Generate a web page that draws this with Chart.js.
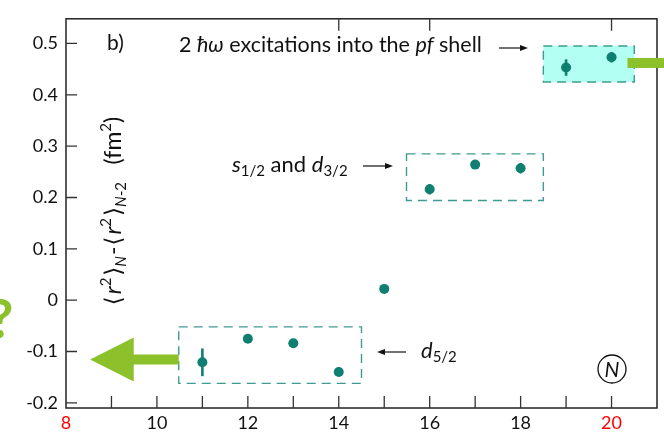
<!DOCTYPE html>
<html>
<head>
<meta charset="utf-8">
<script src="https://cdn.jsdelivr.net/npm/chart.js@4/dist/chart.umd.min.js"></script>
<style>
  html, body { margin: 0; padding: 0; background: #fff; }
  #wrap { width: 664px; height: 432px; position: relative; }
</style>
</head>
<body>
<div id="wrap"><canvas id="c"></canvas></div>
<script>
// Neutron number N and differential mean-square charge radius <r2>_N - <r2>_{N-2}
const neutronNumbers = [11, 12, 13, 14, 15, 16, 17, 18, 19, 20];
const radiusDiffs    = [-0.121, -0.075, -0.084, -0.140, 0.022, 0.216, 0.264, 0.257, 0.453, 0.473];
const radiusErrors   = [0.027, 0.004, 0.006, 0.004, 0.003, 0.010, 0.005, 0.010, 0.016, 0.010];

const xTickValues = [8, 10, 12, 14, 16, 18, 20];
const xMinorTicks = [9, 10, 11, 12, 13, 14, 15, 16, 17, 18, 19, 20];
const topTickValues = [14, 16, 20];
const redTicks = [8, 20];
const yTickValues = [-0.2, -0.1, 0, 0.1, 0.2, 0.3, 0.4, 0.5];

// Shell groups, framed in data units
const shellBoxes = [
  { x0: 10.48, x1: 14.5, y0: -0.162, y1: -0.052, fill: null },
  { x0: 15.49, x1: 18.5, y0: 0.194, y1: 0.285, fill: null },
  { x0: 18.5, x1: 20.5, y0: 0.425, y1: 0.495, fill: '#b2fff3' }
];

const TEAL = '#0f7f71';
const BOX_EDGE = '#3f9a91';
const GREEN = '#8cc12c';
const INK = '#111';
const FONT = 'Lato, "Open Sans", sans-serif';
const BRACKET = '"DejaVu Sans", sans-serif';

function runFont(r, base) {
  return (r.italic ? 'italic ' : '') + (r.size || base) + 'px ' + (r.family || FONT);
}
function runAdvance(ctx, r, base) {
  ctx.font = runFont(r, base);
  return ctx.measureText(r.t).width + (r.pad || 0);
}
// Draw a sequence of styled text runs on one baseline
function drawRuns(ctx, x, y, runs, base, align) {
  const w = runs.reduce((s, r) => s + runAdvance(ctx, r, base), 0);
  let cx = align === 'center' ? x - w / 2 : (align === 'right' ? x - w : x);
  ctx.textAlign = 'left';
  ctx.textBaseline = 'alphabetic';
  for (const r of runs) {
    ctx.font = runFont(r, base);
    ctx.fillText(r.t, cx, y + (r.dy || 0));
    cx += runAdvance(ctx, r, base);
  }
}
function thinArrow(ctx, x0, y, x1) {
  const dir = Math.sign(x1 - x0);
  ctx.save();
  ctx.strokeStyle = INK; ctx.fillStyle = INK; ctx.lineWidth = 1.2;
  ctx.beginPath(); ctx.moveTo(x0, y); ctx.lineTo(x1 - dir * 6, y); ctx.stroke();
  ctx.beginPath();
  ctx.moveTo(x1, y); ctx.lineTo(x1 - dir * 8, y - 3); ctx.lineTo(x1 - dir * 8, y + 3);
  ctx.closePath(); ctx.fill();
  ctx.restore();
}

const decorPlugin = {
  id: 'decor',
  beforeDatasetsDraw(chart) {
    const { ctx, scales: { x, y } } = chart;
    ctx.save();
    // shell boxes
    for (const b of shellBoxes) {
      const l = x.getPixelForValue(b.x0), r = x.getPixelForValue(b.x1);
      const t = y.getPixelForValue(b.y1), btm = y.getPixelForValue(b.y0);
      if (b.fill) { ctx.fillStyle = b.fill; ctx.fillRect(l, t, r - l, btm - t); }
      ctx.strokeStyle = BOX_EDGE; ctx.lineWidth = 1.4; ctx.setLineDash([9, 6]);
      ctx.strokeRect(l, t, r - l, btm - t);
    }
    ctx.setLineDash([]);
    // error bars
    ctx.strokeStyle = TEAL; ctx.lineWidth = 2.6;
    neutronNumbers.forEach((n, i) => {
      const px = x.getPixelForValue(n);
      ctx.beginPath();
      ctx.moveTo(px, y.getPixelForValue(radiusDiffs[i] - radiusErrors[i]));
      ctx.lineTo(px, y.getPixelForValue(radiusDiffs[i] + radiusErrors[i]));
      ctx.stroke();
    });
    // big green arrow towards lighter isotopes
    const ay = y.getPixelForValue(-0.1155);
    const sx = x.getPixelForValue(10.48), hx = x.getPixelForValue(9.49), tx = x.getPixelForValue(8.53);
    ctx.fillStyle = GREEN;
    ctx.beginPath();
    ctx.moveTo(sx, ay - 5); ctx.lineTo(hx, ay - 5); ctx.lineTo(hx, ay - 22);
    ctx.lineTo(tx, ay); ctx.lineTo(hx, ay + 22); ctx.lineTo(hx, ay + 5);
    ctx.lineTo(sx, ay + 5); ctx.closePath(); ctx.fill();
    ctx.restore();
  },
  afterDraw(chart) {
    const { ctx, chartArea: ca, scales: { x, y } } = chart;
    ctx.save();
    // frame
    ctx.strokeStyle = '#222'; ctx.lineWidth = 1.5;
    ctx.strokeRect(ca.left, ca.top, ca.right - ca.left, ca.bottom - ca.top);
    // inward ticks
    ctx.strokeStyle = '#333'; ctx.lineWidth = 1.3;
    ctx.beginPath();
    for (const v of xMinorTicks) {
      const px = x.getPixelForValue(v);
      ctx.moveTo(px, ca.bottom); ctx.lineTo(px, ca.bottom - 12);
    }
    for (const v of topTickValues) {
      const px = x.getPixelForValue(v);
      ctx.moveTo(px, ca.top); ctx.lineTo(px, ca.top + 12);
    }
    for (const v of yTickValues) {
      const py = y.getPixelForValue(v);
      ctx.moveTo(ca.left, py); ctx.lineTo(ca.left + 11, py);
    }
    ctx.stroke();

    // green bar towards heavier isotopes
    const gy = y.getPixelForValue(0.462);
    ctx.fillStyle = GREEN;
    ctx.fillRect(x.getPixelForValue(20.35), gy - 5, chart.width - x.getPixelForValue(20.35), 10);

    // green question mark at the far left
    ctx.font = 'bold 54px ' + FONT;
    ctx.textAlign = 'center'; ctx.textBaseline = 'alphabetic';
    ctx.fillText('?', 1, 338);

    ctx.fillStyle = INK;
    // panel label
    drawRuns(ctx, 107, 50, [{ t: 'b)' }], 21, 'left');
    // annotations
    drawRuns(ctx, 179, 52, [
      { t: '2 ' }, { t: 'ħω', italic: true }, { t: ' excitations into the ' },
      { t: 'pf', italic: true }, { t: ' shell' }
    ], 21.5, 'left');
    thinArrow(ctx, 499, 48, 528);

    drawRuns(ctx, 232, 172, [
      { t: 's', italic: true, size: 22 }, { t: '1/2', size: 15, dy: 4 },
      { t: ' and ', size: 22 }, { t: 'd', italic: true, size: 22 }, { t: '3/2', size: 15, dy: 4 }
    ], 22, 'left');
    thinArrow(ctx, 363, 166, 393);

    drawRuns(ctx, 421, 358, [
      { t: 'd', italic: true, size: 22 }, { t: '5/2', size: 15, dy: 4 }
    ], 22, 'left');
    thinArrow(ctx, 406, 352, 377);

    // circled N
    ctx.strokeStyle = INK; ctx.lineWidth = 1.3;
    ctx.beginPath(); ctx.arc(612, 369, 14, 0, Math.PI * 2); ctx.stroke();
    ctx.font = 'italic 21px ' + FONT; ctx.textAlign = 'center'; ctx.textBaseline = 'middle';
    ctx.fillText('N', 612, 370);

    // y-axis title, rotated
    ctx.translate(114, 211);
    ctx.rotate(-Math.PI / 2);
    drawRuns(ctx, 0, 7, [
      { t: '⟨', family: BRACKET, pad: 2 }, { t: 'r', italic: true }, { t: '2', size: 15, dy: -10, pad: 2 },
      { t: '⟩', family: BRACKET },
      { t: 'N', italic: true, size: 15, dy: 5, pad: 1 }, { t: '-', pad: 1 },
      { t: '⟨', family: BRACKET, pad: 2 }, { t: 'r', italic: true }, { t: '2', size: 15, dy: -10, pad: 2 },
      { t: '⟩', family: BRACKET },
      { t: 'N', italic: true, size: 15, dy: 5 }, { t: '-2', size: 15, dy: 5 },
      { t: '   (fm' }, { t: '2', size: 15, dy: -10 }, { t: ')' }
    ], 23, 'center');
    ctx.restore();
  }
};

new Chart(document.getElementById('c'), {
  type: 'scatter',
  data: {
    datasets: [{
      data: neutronNumbers.map((n, i) => ({ x: n, y: radiusDiffs[i] })),
      backgroundColor: TEAL,
      borderWidth: 0,
      pointRadius: 5,
      pointHoverRadius: 5
    }]
  },
  options: {
    responsive: true,
    maintainAspectRatio: false,
    animation: false,
    events: [],
    layout: { padding: { left: 0, right: 7, top: 1, bottom: 0 } },
    plugins: { legend: { display: false }, tooltip: { enabled: false } },
    scales: {
      x: {
        type: 'linear', min: 8, max: 21,
        afterBuildTicks: s => { s.ticks = xTickValues.map(v => ({ value: v })); },
        afterFit: s => { s.height = 24; },
        grid: { display: false, drawTicks: false },
        border: { display: false },
        ticks: {
          padding: 4,
          font: { size: 18, family: FONT },
          color: ctx => redTicks.includes(ctx.tick.value) ? '#ff0000' : INK,
          callback: v => String(v)
        }
      },
      y: {
        type: 'linear', min: -0.21, max: 0.548,
        afterBuildTicks: s => { s.ticks = yTickValues.map(v => ({ value: v })); },
        afterFit: s => { s.width = 66; },
        grid: { display: false, drawTicks: false },
        border: { display: false },
        ticks: {
          padding: 8,
          font: { size: 18, family: FONT },
          color: INK,
          callback: v => String(parseFloat(Number(v).toFixed(1)))
        }
      }
    }
  },
  plugins: [decorPlugin]
});
</script>
</body>
</html>
